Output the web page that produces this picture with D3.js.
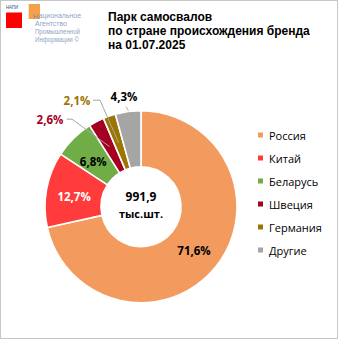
<!DOCTYPE html>
<html>
<head>
<meta charset="utf-8">
<script src="https://cdn.jsdelivr.net/npm/d3@7"></script>
<style>
  html, body { margin: 0; padding: 0; background: #fff; }
  svg { display: block; }
</style>
</head>
<body>
<svg id="chart" width="340" height="340"></svg>
<script>
// Dump-truck fleet by brand country of origin, 01.07.2025
const countries = ["Россия", "Китай", "Беларусь", "Швеция", "Германия", "Другие"];
const shares = [71.6, 12.7, 6.8, 2.6, 2.1, 4.3];
const shareLabels = ["71,6%", "12,7%", "6,8%", "2,6%", "2,1%", "4,3%"];
const colors = ["#F39B5E", "#FF3B3B", "#70AD47", "#A50021", "#9C7400", "#A5A5A5"];
const labelColors = ["#000", "#fff", "#000", "#A50021", "#9C7400", "#000"];
const totalValue = "991,9";
const totalUnit = "тыс.шт.";
const titleLines = ["Парк самосвалов", "по стране происхождения бренда", "на 01.07.2025"];
const logoLines = ["ациональное", "Агентство", "Промышленной", "Информации ©"];

const svg = d3.select("#chart");
const W = 340, H = 340;
const cx = 141, cy = 206.7, rOuter = 96, rInner = 40;

// frame
svg.append("rect").attr("x", 0.5).attr("y", 0.5).attr("width", 337).attr("height", 338)
  .attr("fill", "#fff").attr("stroke", "#c6c6c6").attr("stroke-width", 1);

// logo
const logo = svg.append("g");
logo.append("rect").attr("x", 6).attr("y", 12.5).attr("width", 16).attr("height", 15.5).attr("fill", "#FF0000");
logo.append("rect").attr("x", 28.7).attr("y", 4).attr("width", 11.3).attr("height", 15).attr("fill", "#F7A04A");
logo.append("text").attr("x", 6).attr("y", 8.6).text("НАПИ")
  .attr("font-family", "Liberation Sans, Arial, sans-serif").attr("font-size", 5.2)
  .attr("fill", "#2F4A7A").attr("textLength", 12).attr("lengthAdjust", "spacingAndGlyphs");
logo.append("text").attr("x", 33).attr("y", 18.5).text("Н")
  .attr("font-family", "Liberation Sans, Arial, sans-serif").attr("font-size", 8)
  .attr("fill", "#8A8A8A");
const logoY = [18.3, 26.3, 34.3, 42.3];
const logoX = [38.5, 35, 35, 35];
const logoW = [42.5, 32, 45, 44];
logoLines.forEach((t, i) => {
  logo.append("text").attr("x", logoX[i]).attr("y", logoY[i]).text(t)
    .attr("font-family", "Liberation Sans Narrow, Liberation Sans, Arial, sans-serif")
    .attr("font-size", 7).attr("fill", "#8FA3C6")
    .attr("textLength", logoW[i]).attr("lengthAdjust", "spacingAndGlyphs");
});

// title
const title = svg.append("text")
  .attr("font-family", "Liberation Sans, Arial, sans-serif")
  .attr("font-size", 12).attr("font-weight", "bold").attr("fill", "#000");
titleLines.forEach((t, i) => {
  title.append("tspan").attr("x", 108).attr("y", 20.5 + i * 14).text(t);
});

// doughnut
const data = countries.map((c, i) => ({ country: c, value: shares[i], label: shareLabels[i], color: colors[i], labelColor: labelColors[i] }));
const pie = d3.pie().value(d => d.value).sort(null).startAngle(0).endAngle(2 * Math.PI);
const arcs = pie(data);
const arc = d3.arc().innerRadius(rInner).outerRadius(rOuter);
const g = svg.append("g").attr("transform", `translate(${cx},${cy})`);

g.selectAll("path.slice").data(arcs).join("path")
  .attr("class", "slice")
  .attr("d", arc)
  .attr("fill", d => d.data.color)
  .attr("stroke", "#fff").attr("stroke-width", 1.6).attr("stroke-linejoin", "round");

// label placement: inside slices at centroid, small slices moved outside with leader lines
const labelFont = "Open Sans, Lato, DejaVu Sans, sans-serif";
const outside = {
  3: { x: -91, y: -87.5, bend: [-69, -87.5], from: [-74.3, -87.5] },
  4: { x: -64, y: -106.5, bend: [-41, -106.5], from: [-48, -106.5] },
  5: { x: -17, y: -110.5 }
};
const centroidArc = d3.arc().innerRadius(rInner).outerRadius(rOuter);

arcs.forEach((a, i) => {
  let lx, ly;
  const c = centroidArc.centroid(a);
  if (outside[i]) {
    lx = outside[i].x; ly = outside[i].y;
    const o = outside[i];
    if (o.bend) {
      g.append("polyline")
        .attr("points", [o.from, o.bend, c].map(p => p.join(",")).join(" "))
        .attr("fill", "none").attr("stroke", "#A6A6A6").attr("stroke-width", 1);
    } else {
      const mid = (a.startAngle + a.endAngle) / 2;
      const px = Math.sin(mid) * (rOuter + 1), py = -Math.cos(mid) * (rOuter + 1);
      g.append("line").attr("x1", lx + 2).attr("y1", ly + 10.5).attr("x2", px + 0.5).attr("y2", py)
        .attr("stroke", "#A6A6A6").attr("stroke-width", 1);
    }
  } else {
    lx = c[0]; ly = c[1] + (i === 2 ? 3 : i === 0 ? 1.3 : 1.8);
  }
  g.append("text")
    .attr("x", lx).attr("y", ly)
    .attr("text-anchor", "middle").attr("dominant-baseline", "central")
    .attr("font-family", labelFont).attr("font-size", 11.5).attr("font-weight", "bold")
    .attr("fill", a.data.labelColor)
    .text(a.data.label);
});

// total in the hole
g.append("text").attr("x", 0).attr("y", -10.5).attr("text-anchor", "middle").attr("dominant-baseline", "central")
  .attr("font-family", labelFont).attr("font-size", 12).attr("font-weight", "bold").text(totalValue);
g.append("text").attr("x", 0).attr("y", 6.5).attr("text-anchor", "middle").attr("dominant-baseline", "central")
  .attr("font-family", labelFont).attr("font-size", 11).attr("font-weight", "bold").text(totalUnit);

// legend
const legend = svg.append("g").attr("transform", "translate(258,135)");
const rows = legend.selectAll("g").data(data).join("g")
  .attr("transform", (d, i) => `translate(0,${i * 23})`);
rows.append("rect").attr("x", 0).attr("y", -2.5).attr("width", 5).attr("height", 5).attr("fill", d => d.color);
rows.append("text").attr("x", 11).attr("y", 0).attr("dominant-baseline", "central")
  .attr("font-family", labelFont).attr("font-size", 11).attr("fill", "#000")
  .text(d => d.country);
</script>
</body>
</html>
